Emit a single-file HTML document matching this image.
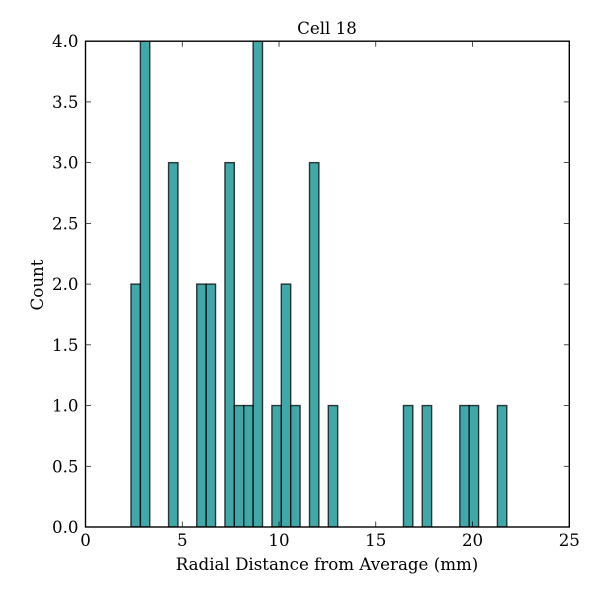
<!DOCTYPE html>
<html>
<head>
<meta charset="utf-8">
<style>
html,body{margin:0;padding:0;background:#fff;}
svg{display:block;}
text{font-family:"DejaVu Serif",serif;font-size:16.67px;fill:#000;}
</style>
</head>
<body>
<svg id="chart" width="600" height="600" viewBox="0 0 600 600" xmlns="http://www.w3.org/2000/svg"></svg>
<script>
const binCounts = [2,4,0,0,3,0,0,2,2,0,3,1,1,4,0,1,2,1,0,3,0,1,0,0,0,0,0,0,0,1,0,1,0,0,0,1,1,0,0,1];
const binStart = 2.35;
const binWidth = 0.4855;
const xTickValues = [0,5,10,15,20,25];
const xTickLabels = ["0","5","10","15","20","25"];
const yTickValues = [0,0.5,1,1.5,2,2.5,3,3.5,4];
const yTickLabels = ["0.0","0.5","1.0","1.5","2.0","2.5","3.0","3.5","4.0"];
const titleText = "Cell 18";
const xTitleText = "Radial Distance from Average (mm)";
const yTitleText = "Count";

const NS = "http://www.w3.org/2000/svg";
const svg = document.getElementById("chart");
const L = 85.5, R = 569.3, T = 41.2, B = 527;
const xDomain = [0, 25], yDomain = [0, 4];
function xScale(v){ return L + (v - xDomain[0]) / (xDomain[1] - xDomain[0]) * (R - L); }
function yScale(v){ return B - (v - yDomain[0]) / (yDomain[1] - yDomain[0]) * (B - T); }
function make(tag, attrs, parent){
  const el = document.createElementNS(NS, tag);
  for (const k in attrs) el.setAttribute(k, attrs[k]);
  (parent || svg).appendChild(el);
  return el;
}

const defs = make("defs", {});
const clip = make("clipPath", {id: "plot-clip"}, defs);
make("rect", {x: L, y: T, width: R - L, height: B - T}, clip);

const bars = make("g", {"clip-path": "url(#plot-clip)"});


binCounts.forEach(function(count, i){
  if (count <= 0) return;
  const x0 = xScale(binStart + i * binWidth);
  const x1 = xScale(binStart + (i + 1) * binWidth);
  const y = yScale(count);
  const r = make("rect", {
    x: x0, y: y, width: x1 - x0, height: yScale(0) - y,
    fill: "#008b8b", "fill-opacity": 0.75,
    stroke: "#000", "stroke-opacity": 0.75, "stroke-width": 1.39
  }, bars);
  
  
});

const tickLen = 5.5;
xTickValues.forEach(function(v, i){
  const x = xScale(v);
  const t1 = make("line", {x1: x, x2: x, y1: B, y2: B - tickLen, stroke: "#000", "stroke-width": 0.7});
  
  
  const t2 = make("line", {x1: x, x2: x, y1: T, y2: T + tickLen, stroke: "#000", "stroke-width": 0.7});
  
  
  const lab = make("text", {x: x, y: 546, "text-anchor": "middle"});
  lab.textContent = xTickLabels[i];
  
  
});
yTickValues.forEach(function(v, i){
  const y = yScale(v);
  const t1 = make("line", {x1: L, x2: L + tickLen, y1: y, y2: y, stroke: "#000", "stroke-width": 0.7});
  
  
  const t2 = make("line", {x1: R, x2: R - tickLen, y1: y, y2: y, stroke: "#000", "stroke-width": 0.7});
  
  
  const lab = make("text", {x: 78.5, y: y + 6, "text-anchor": "end"});
  lab.textContent = yTickLabels[i];
  
  
});

const frame = make("rect", {x: L, y: T, width: R - L, height: B - T, fill: "none", stroke: "#000", "stroke-width": 1.39});



const title = make("text", {x: 327, y: 34, "text-anchor": "middle"});
title.textContent = titleText;



const xTitle = make("text", {x: 327, y: 570, "text-anchor": "middle"});
xTitle.textContent = xTitleText;



const yTitle = make("text", {x: 0, y: 0, "text-anchor": "middle", transform: "translate(43 285) rotate(-90)"});
yTitle.textContent = yTitleText;


</script>
</body>
</html>
